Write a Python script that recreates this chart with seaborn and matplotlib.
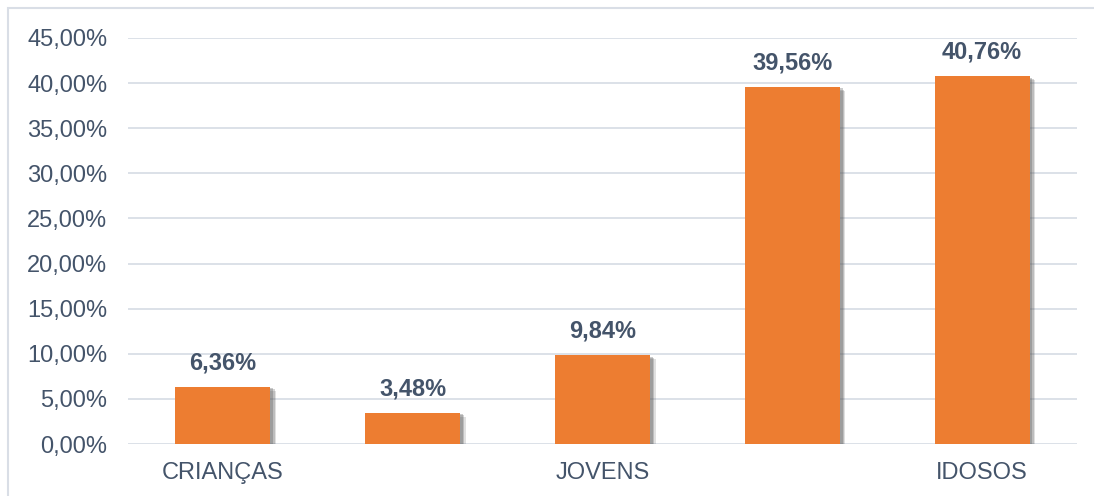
import matplotlib
matplotlib.use("Agg")
import matplotlib.pyplot as plt
import matplotlib.patheffects as pe
from matplotlib.patches import Rectangle
from matplotlib.ticker import FuncFormatter
import numpy as np
import pandas as pd
import seaborn as sns

# Data
tick_labels = ["CRIANÇAS", "", "JOVENS", "", "IDOSOS"]
values = [6.36, 3.48, 9.84, 39.56, 40.76]

sns.set_theme(style="white")
plt.rcParams['font.family'] = ['Liberation Sans', 'DejaVu Sans']

text_color = "#44546A"
bar_color = "#ED7D31"

df = pd.DataFrame({"pos": np.arange(len(values)), "valor": values})

fig = plt.figure(figsize=(10.94, 4.96), dpi=100)
ax = fig.add_axes([0.117, 0.1048, 0.8675, 0.8186])

sns.barplot(data=df, x="pos", y="valor", color=bar_color, saturation=1,
            width=0.5, ax=ax, zorder=3, linewidth=0)

# soft drop shadow on the bars
for p in ax.patches:
    p.set_path_effects([
        pe.SimplePatchShadow(offset=(4, -3), shadow_rgbFace="#555555", alpha=0.18),
        pe.SimplePatchShadow(offset=(3, -2), shadow_rgbFace="#555555", alpha=0.25),
        pe.SimplePatchShadow(offset=(2, -1), shadow_rgbFace="#555555", alpha=0.3),
        pe.Normal()])

# value labels
for cont in ax.containers:
    ax.bar_label(cont, labels=[f"{v:.2f}%".replace(".", ",") for v in values],
                 padding=9, fontsize=17, fontweight="bold", color=text_color)

ax.set_ylim(0, 45)
ax.set_xlim(-0.5, 4.5)
ax.set_yticks(np.arange(0, 46, 5))
ax.yaxis.set_major_formatter(FuncFormatter(lambda v, _: f"{v:.2f}%".replace(".", ",")))
ax.set_xticks(range(len(tick_labels)))
ax.set_xticklabels(tick_labels)
ax.tick_params(axis="both", labelsize=17, colors=text_color, length=0)
ax.tick_params(axis="y", pad=15)
ax.tick_params(axis="x", pad=13)
ax.set_xlabel("")
ax.set_ylabel("")

ax.grid(axis="y", color="#D9DEE6", linewidth=1.3, zorder=0)
ax.set_axisbelow(True)
for s in ax.spines.values():
    s.set_visible(False)

# chart border
fig.patches.append(Rectangle((8 / 1094, -0.01), 1.0, 1 - 8 / 496 + 0.01,
                             transform=fig.transFigure, fill=False,
                             edgecolor="#D9DEE6", linewidth=1.5))

fig.savefig("out.png", dpi=100)
